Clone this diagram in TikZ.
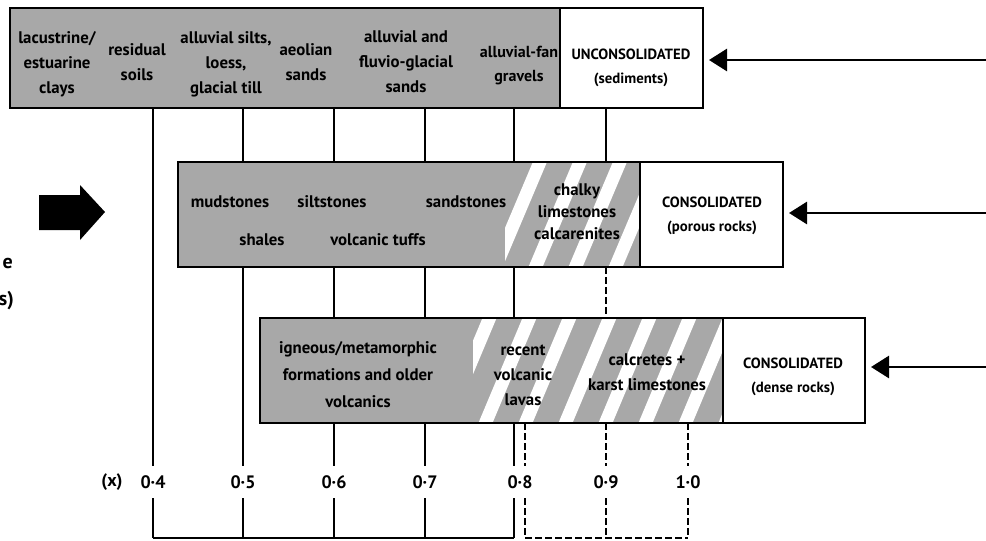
\documentclass[tikz,border=0pt]{standalone}
\usepackage{fontspec}
\setmainfont{PT Sans}
\usetikzlibrary{arrows.meta}
\definecolor{boxgray}{RGB}{168,168,168}
\begin{document}
\begin{tikzpicture}[x=1pt,y=-1pt,
  boxline/.style={draw=black,line width=2.6pt,inner sep=0pt,outer sep=0pt,anchor=north west},
  lbl/.style={align=center,font=\bfseries\fontsize{16.8}{25}\selectfont,inner sep=0pt},
  ttl/.style={align=center,font=\bfseries\fontsize{14.8}{24}\selectfont,inner sep=0pt},
  tick/.style={font=\bfseries\fontsize{18}{20}\selectfont,inner sep=0pt,minimum height=32pt,minimum width=24pt},
  vline/.style={line width=1.8pt},
  dline/.style={line width=1.8pt,dash pattern=on 7pt off 3pt},
  inarrow/.style={line width=2.8pt,-{Triangle[length=18pt,width=22pt]},shorten >=6pt},
  stripe/.style={white,line width=13pt},
]
\useasboundingbox (0,0) rectangle (986,541);

% ---------- fills ----------
\fill[boxgray] (10,8) rectangle (560,108);
\fill[white] (560,8) rectangle (703,108);
\fill[boxgray] (178,162) rectangle (640,267);
\fill[white] (640,162) rectangle (783,267);
\fill[boxgray] (260,318) rectangle (723,423);
\fill[white] (723,318) rectangle (865,423);

% hatching
\begin{scope}
  \clip (505,162) rectangle (640,267);
  \foreach \x in {490,530,...,690} \draw[stripe] (\x,280) -- (\x+55,150);
\end{scope}
\begin{scope}
  \clip (473,318) rectangle (723,423);
  \foreach \x in {440,480,...,760} \draw[stripe] (\x,436) -- (\x+55,305);
\end{scope}

% ---------- boxes ----------
\node[boxline,minimum width=693pt,minimum height=100pt] (top) at (10,8) {};
\node[boxline,minimum width=605pt,minimum height=105pt] (mid) at (178,162) {};
\node[boxline,minimum width=605pt,minimum height=105pt] (bot) at (260,318) {};
\coordinate (s1) at (560,0);
\coordinate (s2) at (640,0);
\coordinate (s3) at (723,0);
\draw[line width=2pt] (top.north -| s1) -- (top.south -| s1);
\draw[line width=2pt] (mid.north -| s2) -- (mid.south -| s2);
\draw[line width=2pt] (bot.north -| s3) -- (bot.south -| s3);

% ---------- texts ----------
\node[lbl] (n1) at (57,64) {lacustrine/\\estuarine\\clays};
\node[lbl] (n2) at (137,62) {residual\\soils};
\node[lbl] (n3) at (226,64) {alluvial silts,\\loess,\\glacial till};
\node[lbl] (n4) at (306,62) {aeolian\\sands};
\node[lbl] (n5) at (406,62) {alluvial and\\fluvio-glacial\\sands};
\node[lbl,font=\bfseries\fontsize{16}{24}\selectfont] (n6) at (519,66) {alluvial-fan\\gravels};
\node[ttl] (u1) at (631,68) {UNCONSOLIDATED\\(sediments)};

\node[lbl] (m1) at (230,202) {mudstones};
\node[lbl] (m2) at (332,202) {siltstones};
\node[lbl] (m3) at (466,202) {sandstones};
\node[lbl] (m4) at (262,240) {shales};
\node[lbl] (m5) at (378,240) {volcanic tuffs};
\node[lbl,font=\bfseries\fontsize{16.8}{22}\selectfont] (m6) at (577,212) {chalky\\limestones\\calcarenites};
\node[ttl] (u2) at (712,216) {CONSOLIDATED\\(porous rocks)};

\node[lbl,font=\bfseries\fontsize{16.8}{27}\selectfont] (b1) at (358,375) {igneous/metamorphic\\formations and older\\volcanics};
\node[lbl] (b2) at (523,375) {recent\\volcanic\\lavas};
\node[lbl] (b3) at (647,372) {calcretes +\\karst limestones};
\node[ttl] (u3) at (793,377) {CONSOLIDATED\\(dense rocks)};

% ---------- scale ----------
\node[tick] (xl) at (112,482) {(x)};
\node[tick] (t4) at (153,482) {0·4};
\node[tick] (t5) at (243,482) {0·5};
\node[tick] (t6) at (334,482) {0·6};
\node[tick] (t7) at (425,482) {0·7};
\node[tick] (t8) at (520,482) {0·8};
\node[tick] (t9) at (606,482) {0·9};
\node[tick] (t10) at (688,482) {1·0};

\coordinate (c4) at (153,538);
\coordinate (c5) at (243,538);
\coordinate (c6) at (334,538);
\coordinate (c7) at (425,538);
\coordinate (c8) at (514,538);
\coordinate (d8) at (525,538);
\coordinate (d9) at (606,538);
\coordinate (d10) at (688,538);

% 0.4
\draw[vline] (top.south -| c4) -- (t4.north -| c4);
\draw[vline] (t4.south -| c4) -- (c4);
% 0.5
\draw[vline] (top.south -| c5) -- (mid.north -| c5);
\draw[vline] (mid.south -| c5) -- (t5.north -| c5);
\draw[vline] (t5.south -| c5) -- (c5);
% 0.6
\draw[vline] (top.south -| c6) -- (mid.north -| c6);
\draw[vline] (mid.south -| c6) -- (bot.north -| c6);
\draw[vline] (bot.south -| c6) -- (t6.north -| c6);
\draw[vline] (t6.south -| c6) -- (c6);
% 0.7
\draw[vline] (top.south -| c7) -- (mid.north -| c7);
\draw[vline] (mid.south -| c7) -- (bot.north -| c7);
\draw[vline] (bot.south -| c7) -- (t7.north -| c7);
\draw[vline] (t7.south -| c7) -- (c7);
% 0.8
\draw[vline] (top.south -| c8) -- (mid.north -| c8);
\draw[vline] (mid.south -| c8) -- (bot.north -| c8);
\draw[vline] (bot.south -| c8) -- (t8.north -| c8);
\draw[vline] (t8.south -| c8) -- (c8);
\draw[dline] (bot.south -| d8) -- (t8.north -| d8);
\draw[dline] (t8.south -| d8) -- (d8);
% 0.9
\draw[vline] (top.south -| d9) -- (mid.north -| d9);
\draw[dline] (mid.south -| d9) -- (bot.north -| d9);
\draw[dline] (bot.south -| d9) -- (t9.north -| d9);
\draw[dline] (t9.south -| d9) -- (d9);
% 1.0
\draw[dline] (bot.south -| d10) -- (t10.north -| d10);
\draw[dline] (t10.south -| d10) -- (d10);
% base lines
\draw[vline] (c4) -- (c8);
\draw[dline] (d8) -- (d10);

% ---------- arrows ----------
\coordinate (r1) at (986,60);
\coordinate (r2) at (986,213);
\coordinate (r3) at (986,367);
\draw[inarrow] (r1) -- (top.east |- r1);
\draw[inarrow] (r2) -- (mid.east |- r2);
\draw[inarrow] (r3) -- (bot.east |- r3);

\fill[black] (39,195) -- (80,195) -- (80,185) -- (105,212) -- (80,240) -- (80,230) -- (39,230) -- cycle;

\node[font=\bfseries\fontsize{20}{24}\selectfont,inner sep=0pt,anchor=base east] (cut1) at (13,268) {e};
\node[font=\bfseries\fontsize{20}{24}\selectfont,inner sep=0pt,anchor=base east] (cut2) at (14,305) {s)};
\end{tikzpicture}
\end{document}
